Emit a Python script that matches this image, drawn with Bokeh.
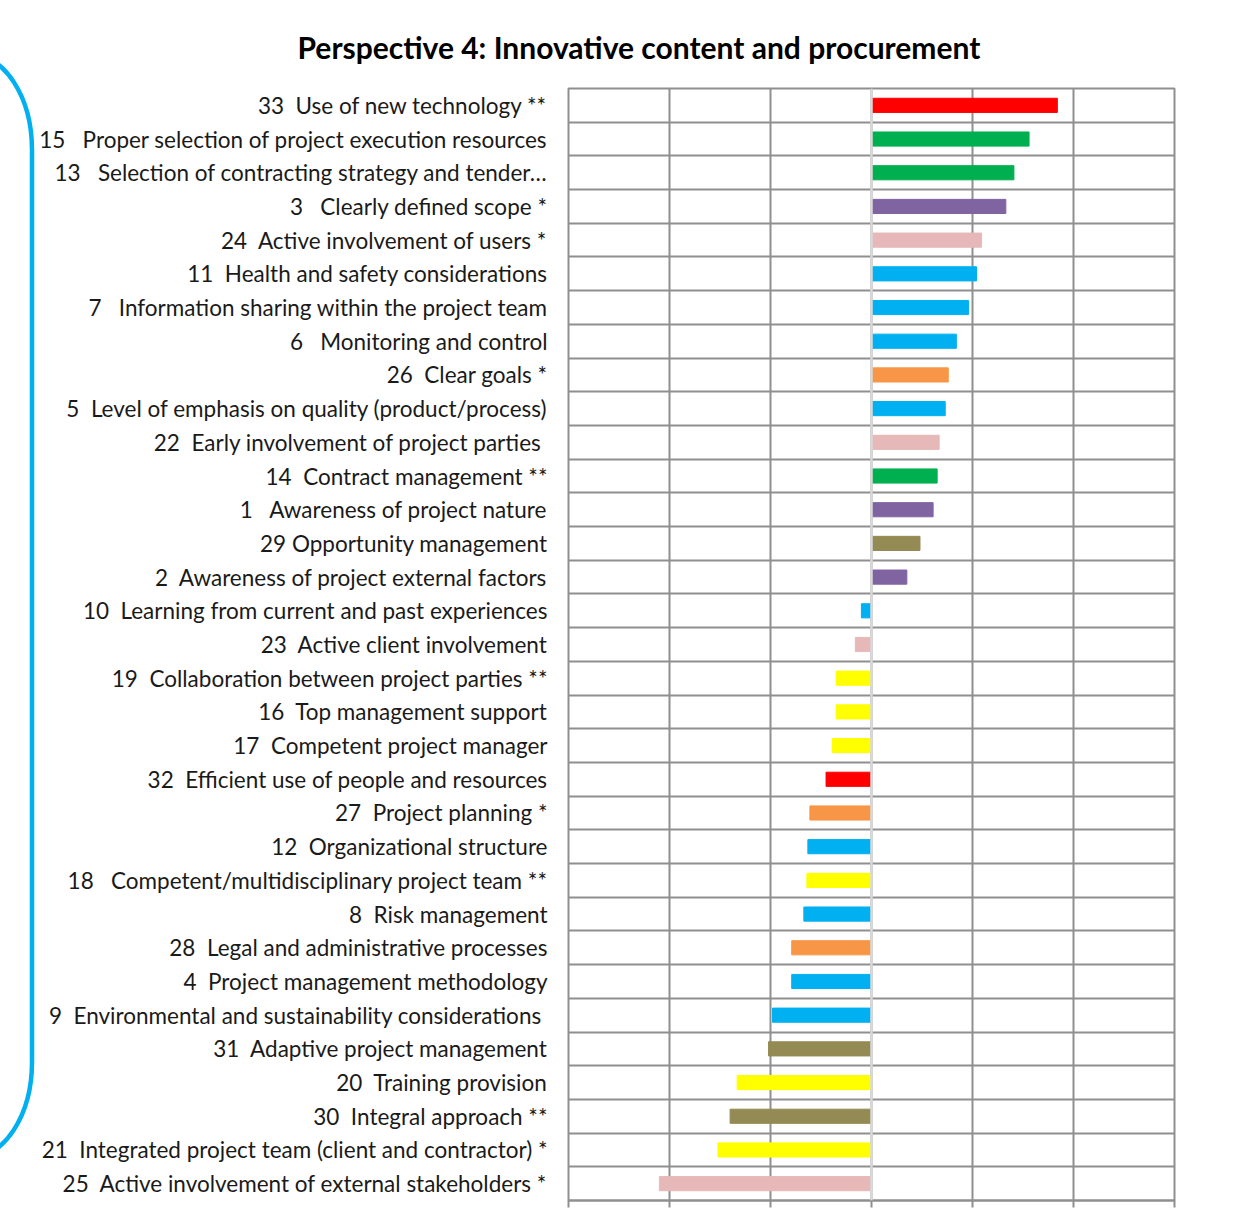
from bokeh.plotting import figure
from bokeh.layouts import row
from bokeh.models import ColumnDataSource, Range1d, FixedTicker, Span, Div
from bokeh.embed import file_html
from bokeh.resources import INLINE

S2 = "\u00a0 "          # double gap
S3 = "\u00a0\u00a0 "    # triple gap

labels = [
    "33" + S2 + "Use of new technology **",
    "15" + S3 + "Proper selection of project execution resources",
    "13" + S3 + "Selection of contracting strategy and tender\u2026",
    "3" + S3 + "Clearly defined scope *",
    "24" + S2 + "Active involvement of users *",
    "11" + S2 + "Health and safety considerations",
    "7" + S3 + "Information sharing within the project team",
    "6" + S3 + "Monitoring and control",
    "26" + S2 + "Clear goals *",
    "5" + S2 + "Level of emphasis on quality (product/process)",
    "22" + S2 + "Early involvement of project parties\u00a0",
    "14" + S2 + "Contract management **",
    "1" + S3 + "Awareness of project nature",
    "29 Opportunity management",
    "2" + S2 + "Awareness of project external factors",
    "10" + S2 + "Learning from current and past experiences",
    "23" + S2 + "Active client involvement",
    "19" + S2 + "Collaboration between project parties **",
    "16" + S2 + "Top management support",
    "17" + S2 + "Competent project manager",
    "32" + S2 + "Efficient use of people and resources",
    "27" + S2 + "Project planning *",
    "12" + S2 + "Organizational structure",
    "18" + S3 + "Competent/multidisciplinary project team **",
    "8" + S2 + "Risk management",
    "28" + S2 + "Legal and administrative processes",
    "4" + S2 + "Project management methodology",
    "9" + S2 + "Environmental and sustainability considerations\u00a0",
    "31" + S2 + "Adaptive project management",
    "20" + S2 + "Training provision",
    "30" + S2 + "Integral approach **",
    "21" + S2 + "Integrated project team (client and contractor) *",
    "25" + S2 + "Active involvement of external stakeholders *",
]

values = [1.84, 1.56, 1.41, 1.33, 1.09, 1.04, 0.96, 0.84, 0.76, 0.73, 0.67,
          0.65, 0.61, 0.48, 0.35, -0.10, -0.16, -0.35, -0.35, -0.39, -0.45,
          -0.61, -0.63, -0.64, -0.67, -0.79, -0.79, -0.98, -1.02, -1.33,
          -1.40, -1.52, -2.10]

groups = ["red", "green", "green", "purple", "pink", "blue", "blue", "blue",
          "orange", "blue", "pink", "green", "purple", "olive", "purple",
          "blue", "pink", "yellow", "yellow", "yellow", "red", "orange",
          "blue", "yellow", "blue", "orange", "blue", "blue", "olive",
          "yellow", "olive", "yellow", "pink"]

palette = {"red": "#FF0000", "green": "#00B050", "purple": "#8064A2",
           "pink": "#E6B9B8", "blue": "#00B0F0", "orange": "#F79646",
           "olive": "#948A54", "yellow": "#FFFF00"}

x_ticks = [-3, -2, -1, 0, 1, 2, 3]

n = len(labels)
ypos = list(range(n))
src = ColumnDataSource(dict(y=ypos, v=values, c=[palette[g] for g in groups]))

W, H = 1233, 1225
LW = 35  # width of the decorative bracket strip

# ---- decorative bracket (right-parenthesis shape at the far left) ----
bracket_svg = (
    f'<svg xmlns="http://www.w3.org/2000/svg" width="{LW}" height="{H}" '
    f'style="display:block">'
    '<path d="M -30 54 A 62 96 0 0 1 32 150 L 32 1062 A 62 96 0 0 1 -30 1158" '
    'fill="none" stroke="#00B0F0" stroke-width="4.5"/></svg>'
)
b = Div(text=bracket_svg, width=LW, height=H, margin=(0, 0, 0, 0))

# ---- main chart ----
p = figure(width=W - LW, height=H, output_backend="svg", toolbar_location=None,
           x_range=Range1d(-3, 3), y_range=Range1d(n - 0.5, -0.5),
           min_border_left=568 - LW, min_border_right=59, min_border_top=88,
           min_border_bottom=25, margin=(0, 0, 0, 0))
p.outline_line_color = "#8f8f8f"
p.outline_line_width = 2

p.title.text = "Perspective 4: Innovative content and procurement"
p.title.text_font = "Lato"
p.title.text_font_style = "bold"
p.title.text_font_size = "30px"
p.title.text_color = "#000000"
p.title.align = "left"
p.title.offset = -(568 - 297)
p.title.standoff = 47

p.hbar(y="y", left=0, right="v", height=0.42, color="c", source=src)

grid_col = "#8f8f8f"
p.xgrid.ticker = FixedTicker(ticks=x_ticks)
p.xgrid.grid_line_color = grid_col
p.xgrid.grid_line_width = 2
p.ygrid.ticker = FixedTicker(ticks=[i - 0.5 for i in range(n + 1)])
p.ygrid.grid_line_color = grid_col
p.ygrid.grid_line_width = 2

p.add_layout(Span(location=0, dimension="height", line_color="#d9d9d9",
                  line_width=2.5, level="overlay"))

xa = p.xaxis[0]
xa.ticker = FixedTicker(ticks=x_ticks)
xa.axis_line_color = grid_col
xa.axis_line_width = 2
xa.major_tick_line_color = grid_col
xa.major_tick_line_width = 2
xa.major_tick_in = 0
xa.major_tick_out = 7
xa.minor_tick_line_color = None
xa.major_label_text_color = None
xa.major_label_text_font_size = "1px"

ya = p.yaxis[0]
ya.ticker = FixedTicker(ticks=ypos)
ya.major_label_overrides = {i: labels[i] for i in ypos}
ya.axis_line_color = None
ya.major_tick_line_color = None
ya.minor_tick_line_color = None
ya.major_label_standoff = 15
ya.major_label_text_font = "Lato"
ya.major_label_text_font_size = "22.5px"
ya.major_label_text_color = "#1a1a1a"

open("out.html", "w").write(file_html(row(b, p, spacing=0), INLINE))
